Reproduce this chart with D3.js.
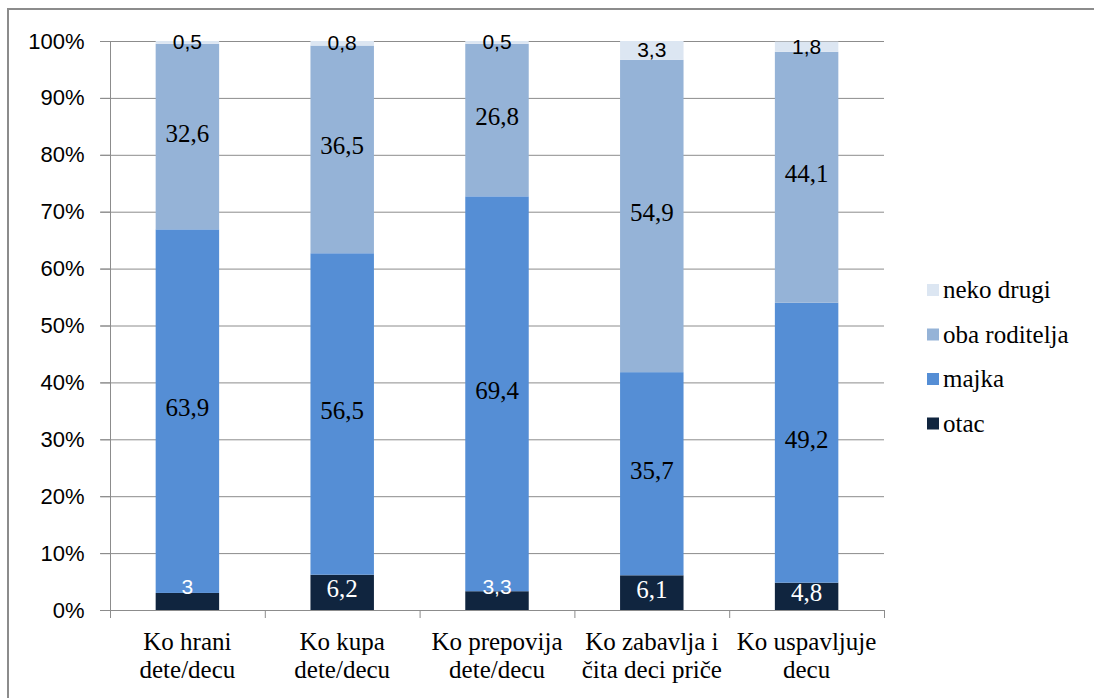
<!DOCTYPE html>
<html>
<head>
<meta charset="utf-8">
<script src="https://cdn.jsdelivr.net/npm/d3@7"></script>
<style>
  body { margin: 0; background: #fff; }
  .serif { font-family: "Liberation Serif", Tinos, "Times New Roman", Times, "DejaVu Serif", serif; }
  .sans { font-family: "Liberation Sans", Arial, sans-serif; }
</style>
</head>
<body>
<svg id="chart" width="1094" height="698"></svg>
<script>
const categories = [
  ["Ko hrani", "dete/decu"],
  ["Ko kupa", "dete/decu"],
  ["Ko prepovija", "dete/decu"],
  ["Ko zabavlja i", "čita deci priče"],
  ["Ko uspavljuje", "decu"]
];
const seriesNames = ["otac", "majka", "oba roditelja", "neko drugi"];
const otac = [3, 6.2, 3.3, 6.1, 4.8];
const majka = [63.9, 56.5, 69.4, 35.7, 49.2];
const obaRoditelja = [32.6, 36.5, 26.8, 54.9, 44.1];
const nekoDrugi = [0.5, 0.8, 0.5, 3.3, 1.8];
const yTicks = [0, 10, 20, 30, 40, 50, 60, 70, 80, 90, 100];

const colors = ["#10253f", "#558ed5", "#95b3d7", "#dce6f2"];
const labelColors = ["#fff", "#000", "#000", "#000"];

const svg = d3.select("#chart");

// frame
svg.append("rect")
  .attr("x", 8).attr("y", 9)
  .attr("width", 1100).attr("height", 700)
  .attr("fill", "none")
  .attr("stroke", "#8c8c8c")
  .attr("stroke-width", 2);

const plotL = 110, plotR = 884, plotT = 41, plotB = 610;

const keys = categories.map((c, i) => i);
const x = d3.scaleBand().domain(keys).range([plotL, plotR]).paddingInner(0.59).paddingOuter(0.295);
const y = d3.scaleLinear().domain([0, 100]).range([plotB, plotT]);

const table = keys.map(i => ({
  i,
  otac: otac[i],
  majka: majka[i],
  "oba roditelja": obaRoditelja[i],
  "neko drugi": nekoDrugi[i]
}));
const stacked = d3.stack().keys(seriesNames)(table);

// gridlines
svg.append("g").selectAll("line")
  .data(yTicks)
  .join("line")
  .attr("x1", plotL - 10).attr("x2", plotR)
  .attr("y1", d => y(d) + 0.5).attr("y2", d => y(d) + 0.5)
  .attr("stroke", "#8c8c8c")
  .attr("stroke-width", 1);

// y axis
const yAxis = svg.append("g")
  .attr("transform", `translate(${plotL + 0.5},0)`)
  .call(d3.axisLeft(y).tickValues(yTicks).tickFormat(d => d + "%").tickSize(10).tickPadding(16));
yAxis.select(".domain").attr("stroke", "#8c8c8c").attr("d", `M0,${plotT}V${plotB}`);
yAxis.selectAll(".tick line").attr("stroke", "#8c8c8c");
yAxis.attr("font-family", null).attr("font-size", null);
yAxis.selectAll(".tick text")
  .attr("class", "sans")
  .attr("font-size", 22)
  .attr("fill", "#000");

// bars
const layers = svg.append("g").selectAll("g")
  .data(stacked)
  .join("g")
  .attr("fill", (d, k) => colors[k]);

layers.selectAll("rect")
  .data(d => d)
  .join("rect")
  .attr("x", d => x(d.data.i))
  .attr("width", x.bandwidth())
  .attr("y", d => y(d[1]))
  .attr("height", d => y(d[0]) - y(d[1]));

// x axis
const boundaries = keys.map(i => x(i) - x.step() * x.paddingInner() / 2).concat([plotR]);
svg.append("line")
  .attr("x1", plotL).attr("x2", plotR)
  .attr("y1", plotB + 0.5).attr("y2", plotB + 0.5)
  .attr("stroke", "#8c8c8c");
svg.append("g").selectAll("line")
  .data([plotL].concat(boundaries.slice(1)))
  .join("line")
  .attr("x1", d => d + 0.5).attr("x2", d => d + 0.5)
  .attr("y1", plotB).attr("y2", plotB + 8)
  .attr("stroke", "#8c8c8c");

svg.append("g").selectAll("text")
  .data(categories)
  .join("text")
  .attr("class", "serif")
  .attr("text-anchor", "middle")
  .attr("font-size", 25)
  .attr("fill", "#000")
  .each(function (lines, i) {
    const t = d3.select(this);
    lines.forEach((ln, j) => {
      t.append("tspan")
        .attr("x", x(i) + x.bandwidth() / 2)
        .attr("y", 650 + j * 28)
        .text(ln);
    });
  });

// data labels
stacked.forEach((layer, k) => {
  svg.append("g").selectAll("text")
    .data(layer)
    .join("text")
    .attr("text-anchor", "middle")
    .attr("fill", labelColors[k])
    .each(function (d) {
      const v = d[1] - d[0];
      const small = v < 4;
      let cy = (y(d[0]) + y(d[1])) / 2;
      if (small && k === 0) cy = Math.min(cy, plotB - 23);
      d3.select(this)
        .attr("x", x(d.data.i) + x.bandwidth() / 2)
        .attr("y", cy + (small ? 7 : 5))
        .attr("class", small ? "sans" : "serif")
        .attr("font-size", small ? 21 : 25)
        .text(String(v.toFixed(1)).replace(/\.0$/, "").replace(".", ","));
    });
});

// legend
const legend = svg.append("g").selectAll("g")
  .data(seriesNames.slice().reverse())
  .join("g")
  .attr("transform", (d, j) => `translate(927, ${290 + j * 44.5})`);
legend.append("rect")
  .attr("x", 0).attr("y", -6)
  .attr("width", 12).attr("height", 12)
  .attr("fill", d => colors[seriesNames.indexOf(d)]);
legend.append("text")
  .attr("class", "serif")
  .attr("x", 16).attr("y", 8)
  .attr("font-size", 25)
  .attr("fill", "#000")
  .text(d => d);
</script>
</body>
</html>
